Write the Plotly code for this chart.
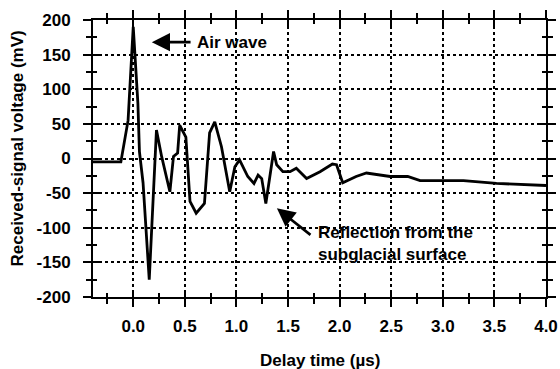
import plotly.graph_objects as go

# Delay time (µs) and received-signal voltage (mV)
delay_us = [-0.39, -0.12, -0.05, 0.0, 0.045, 0.06, 0.095, 0.155, 0.225, 0.275,
            0.355, 0.39, 0.43, 0.45, 0.51, 0.55, 0.61, 0.69, 0.74, 0.79,
            0.855, 0.935, 0.985, 1.03, 1.11, 1.17, 1.21, 1.245, 1.285, 1.36,
            1.39, 1.45, 1.52, 1.58, 1.68, 1.81, 1.93, 1.97, 2.03, 2.16,
            2.26, 2.49, 2.66, 2.78, 3.2, 3.52, 4.0]
voltage_mv = [-5, -5, 55, 190, 80, 10, -35, -175, 41, 3,
              -48, 3, 8, 48, 31, -62, -79, -65, 37, 53,
              17, -48, -12, -2, -26, -36, -24, -29, -65, 10,
              -9, -19, -19, -14, -29, -19, -8, -9, -35, -26,
              -21, -26, -26, -32, -32, -36, -39]

x_ticks = [0.0, 0.5, 1.0, 1.5, 2.0, 2.5, 3.0, 3.5, 4.0]
x_tick_labels = ["0.0", "0.5", "1.0", "1.5", "2.0", "2.5", "3.0", "3.5", "4.0"]
y_ticks = [-200, -150, -100, -50, 0, 50, 100, 150, 200]
y_tick_labels = ["-200", "-150", "-100", "-50", "0", "50", "100", "150", "200"]

X_RANGE = [-0.39, 4.0]
Y_RANGE = [-200, 200]
FONT = "Liberation Sans, Arial, sans-serif"
FS = 17

fig = go.Figure()
fig.add_trace(go.Scatter(x=delay_us, y=voltage_mv, mode="lines",
                         line=dict(color="black", width=2.8),
                         showlegend=False, hoverinfo="skip"))
# empty trace so the overlay axes (inside ticks) are drawn
fig.add_trace(go.Scatter(x=[], y=[], xaxis="x2", yaxis="y2",
                         showlegend=False, hoverinfo="skip"))

common = dict(showline=True, linecolor="black", linewidth=2, mirror="ticks",
              tickcolor="black", tickwidth=2, zeroline=False, automargin=False)

fig.update_layout(
    width=560, height=369,
    margin=dict(l=93, r=14, t=20, b=72, autoexpand=False),
    paper_bgcolor="white", plot_bgcolor="white",
    font=dict(family=FONT, size=FS, color="black", weight="bold"),
    xaxis=dict(range=X_RANGE, tickvals=x_ticks, ticktext=x_tick_labels,
               ticks="outside", ticklen=8, ticklabelstandoff=5,
               showgrid=True, gridcolor="black", griddash="dot", gridwidth=1.5,
               minor=dict(ticks="outside", ticklen=5, tickwidth=2,
                          tickcolor="black", dtick=0.25, tick0=0, showgrid=False),
               **common),
    yaxis=dict(range=Y_RANGE, tickvals=y_ticks, ticktext=y_tick_labels,
               ticks="outside", ticklen=8, ticklabelstandoff=9,
               showgrid=True, gridcolor="black", griddash="dot", gridwidth=1.5,
               minor=dict(ticks="outside", ticklen=5, tickwidth=2,
                          tickcolor="black", dtick=25, tick0=0, showgrid=False),
               **common),
    xaxis2=dict(overlaying="x", matches="x", range=X_RANGE, anchor="y2",
                tickvals=x_ticks, ticks="inside", ticklen=7,
                showticklabels=False, showgrid=False,
                minor=dict(ticks="inside", ticklen=4, tickwidth=2,
                           tickcolor="black", dtick=0.25, tick0=0),
                showline=False, mirror="ticks", tickcolor="black", tickwidth=2,
                zeroline=False, automargin=False),
    yaxis2=dict(overlaying="y", matches="y", range=Y_RANGE, anchor="x2",
                tickvals=y_ticks, ticks="inside", ticklen=7,
                showticklabels=False, showgrid=False,
                minor=dict(ticks="inside", ticklen=4, tickwidth=2,
                           tickcolor="black", dtick=25, tick0=0),
                showline=False, mirror="ticks", tickcolor="black", tickwidth=2,
                zeroline=False, automargin=False),
)

# axis titles
fig.add_annotation(text="Delay time (µs)", xref="paper", yref="paper",
                   x=0.5, y=0, yshift=-63, showarrow=False,
                   xanchor="center", yanchor="middle", font=dict(size=FS))
fig.add_annotation(text="Received-signal voltage (mV)", xref="paper", yref="paper",
                   x=0, y=0.5, xshift=-76, yshift=10, textangle=-90, showarrow=False,
                   xanchor="center", yanchor="middle", font=dict(size=FS))

# callouts
fig.add_annotation(x=0.18, y=168, ax=0.57, ay=168, axref="x", ayref="y",
                   text="", showarrow=True, arrowhead=2, arrowsize=1.4,
                   arrowwidth=2.6, arrowcolor="black")
fig.add_annotation(x=0.595, y=168, text="Air wave", showarrow=False,
                   xanchor="left", yanchor="middle", font=dict(size=FS))
fig.add_annotation(x=1.392, y=-72, ax=1.732, ay=-112, axref="x", ayref="y",
                   text="", showarrow=True, arrowhead=2, arrowsize=1.4,
                   arrowwidth=2.6, arrowcolor="black")
fig.add_annotation(x=1.77, y=-123, text="Reflection from the<br>subglacial surface",
                   showarrow=False, xanchor="left", yanchor="middle", align="left",
                   font=dict(size=FS))

fig.write_html("out.html", config={"displayModeBar": False},
               post_script="document.body.style.margin='0';document.body.style.overflow='hidden';")
